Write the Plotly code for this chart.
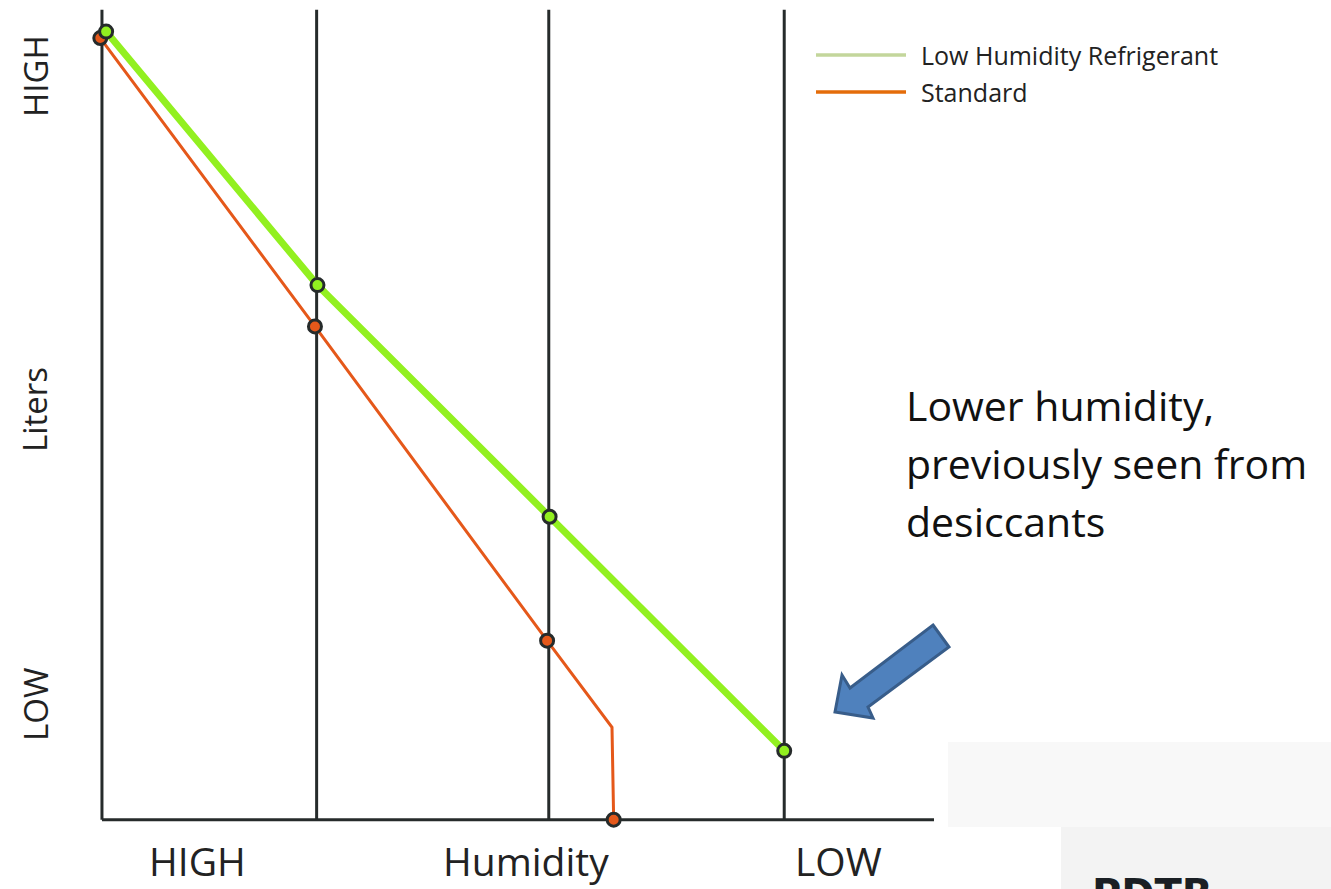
import plotly.graph_objects as go

# ---- data (abstract units: humidity 0..100 left->right, liters 0..100 bottom->top)
humidity_levels = [0, 25.8, 53.7, 82.0]
series_names = ["Low Humidity Refrigerant", "Standard"]
lowhum_x = [0.5, 25.9, 53.8, 82.0]
lowhum_y = [97.3, 66.0, 37.4, 8.5]
standard_x = [-0.2, 25.6, 53.5, 61.3, 61.5]
standard_y = [96.5, 60.9, 22.1, 11.4, 0.0]
standard_marker_visible = [1, 1, 1, 0, 1]
x_labels = ["HIGH", "Humidity", "LOW"]
y_labels = ["HIGH", "Liters", "LOW"]
note_lines = ["Lower humidity,", "previously seen from", "desiccants"]

# ---- layout geometry
W, H = 1331, 889
ML, MR, MT, MB = 77, 397, 0, 45
XR = [-3, 100]
YR = [-3, 101.2]
PW, PH = W - ML - MR, H - MT - MB


def pp_x(px):  # pixel -> paper x
    return (px - ML) / PW


def pp_y(py):  # pixel -> paper y
    return 1 - (py - MT) / PH


FONT = "Open Sans"
DARK = "#262b2b"
GREEN = "#92f020"
ORANGE = "#e5581a"
LEG_GREEN = "#c3d69b"
LEG_ORANGE = "#e46c0a"
TEXT = "#222222"

fig = go.Figure()

fig.add_trace(go.Scatter(
    x=standard_x, y=standard_y, mode="lines+markers", name=series_names[1],
    line=dict(color=ORANGE, width=3),
    marker=dict(size=13, color=ORANGE, opacity=standard_marker_visible,
                line=dict(color=DARK, width=3)),
    cliponaxis=False, showlegend=False, hoverinfo="skip"))

fig.add_trace(go.Scatter(
    x=lowhum_x, y=lowhum_y, mode="lines+markers", name=series_names[0],
    line=dict(color=GREEN, width=7),
    marker=dict(size=13, color=GREEN, line=dict(color=DARK, width=3)),
    cliponaxis=False, showlegend=False, hoverinfo="skip"))

shapes = []
# vertical humidity lines
for xv in humidity_levels:
    shapes.append(dict(type="line", xref="x", yref="y", x0=xv, x1=xv, y0=0, y1=100,
                       line=dict(color=DARK, width=3), layer="below"))
# horizontal axis
shapes.append(dict(type="line", xref="x", yref="y", x0=humidity_levels[0], x1=100, y0=0, y1=0,
                   line=dict(color=DARK, width=3), layer="below"))

# manual legend
leg_rows = [(55, LEG_GREEN, series_names[0]), (92, LEG_ORANGE, series_names[1])]
annotations = []
for py, col, name in leg_rows:
    shapes.append(dict(type="line", xref="paper", yref="paper",
                       x0=pp_x(816), x1=pp_x(906), y0=pp_y(py), y1=pp_y(py),
                       line=dict(color=col, width=3.5)))
    annotations.append(dict(xref="paper", yref="paper", x=pp_x(919), y=pp_y(py),
                            xanchor="left", yanchor="middle", text=name, showarrow=False,
                            font=dict(family=FONT, size=25, color=TEXT)))

# blue arrow polygon (pixel outline -> paper)
arrow_px = [(933, 625), (949, 647), (868, 707), (873, 718), (835, 712),
            (842, 675), (850, 688)]
path = "M " + " L ".join(f"{pp_x(a):.5f},{pp_y(b):.5f}" for a, b in arrow_px) + " Z"
shapes.append(dict(type="path", xref="paper", yref="paper", path=path,
                   fillcolor="#4f81bd", line=dict(color="#385d8a", width=3)))

# bottom-right light photo area
shapes.append(dict(type="rect", xref="paper", yref="paper",
                   x0=pp_x(948), x1=pp_x(1331), y0=pp_y(889), y1=pp_y(742),
                   fillcolor="#f8f8f8", line=dict(width=0), layer="below"))
shapes.append(dict(type="rect", xref="paper", yref="paper",
                   x0=pp_x(1061), x1=pp_x(1331), y0=pp_y(889), y1=pp_y(827),
                   fillcolor="#f3f3f3", line=dict(width=0), layer="below"))
shapes.append(dict(type="rect", xref="paper", yref="paper",
                   x0=pp_x(948), x1=pp_x(1061), y0=pp_y(889), y1=pp_y(827),
                   fillcolor="#ffffff", line=dict(width=0), layer="below"))
annotations.append(dict(xref="paper", yref="paper", x=pp_x(1090), y=pp_y(869),
                        xanchor="left", yanchor="top", text="<b>PDTB</b>", showarrow=False,
                        font=dict(family="DejaVu Sans", size=40, color="#1a1f24")))

# axis labels
for txt, cx in zip(x_labels, [197, 526, 838]):
    annotations.append(dict(xref="paper", yref="paper", x=pp_x(cx), y=pp_y(860), text=txt,
                            showarrow=False, xanchor="center", yanchor="middle",
                            font=dict(family=FONT, size=39, color=TEXT)))
for txt, cy in zip(y_labels, [76, 410, 705]):
    annotations.append(dict(xref="paper", yref="paper", x=pp_x(35), y=pp_y(cy), text=txt,
                            showarrow=False, xanchor="center", yanchor="middle", textangle=-90,
                            font=dict(family=FONT, size=33, color=TEXT)))

# note text
for txt, cy in zip(note_lines, [405, 463, 521]):
    annotations.append(dict(xref="paper", yref="paper", x=pp_x(904), y=pp_y(cy), text=txt,
                            showarrow=False, xanchor="left", yanchor="middle",
                            font=dict(family=FONT, size=41, color="#111111")))

fig.update_layout(
    width=W, height=H, margin=dict(l=ML, r=MR, t=MT, b=MB),
    paper_bgcolor="white", plot_bgcolor="white",
    xaxis=dict(range=XR, visible=False, fixedrange=True),
    yaxis=dict(range=YR, visible=False, fixedrange=True),
    shapes=shapes, annotations=annotations, showlegend=False,
)

fig.write_html("out.html", config={"displayModeBar": False},
               post_script="document.body.style.margin='0';document.body.style.overflow='hidden';")
